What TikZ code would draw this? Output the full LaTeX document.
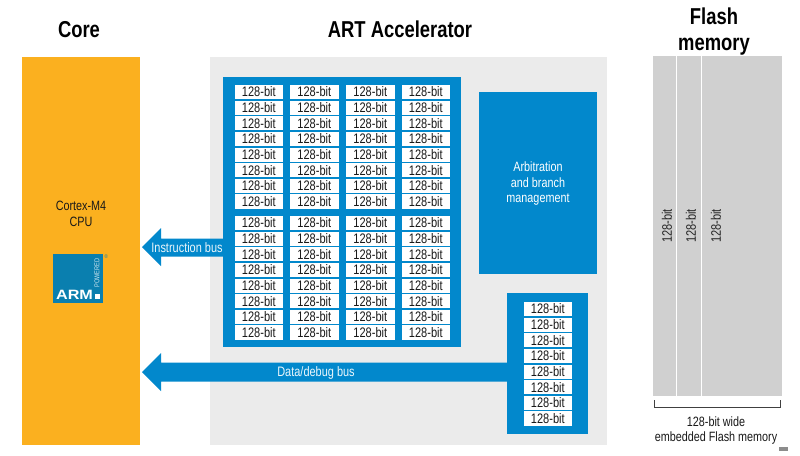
\documentclass[tikz,border=0pt]{standalone}
\usepackage{fontspec}
\setmainfont[FakeStretch=0.8]{Liberation Sans}
\newfontfamily\armfont[FakeStretch=1.2]{Liberation Sans}
\definecolor{coreor}{HTML}{FBB01F}
\definecolor{artblue}{HTML}{0288CC}
\definecolor{panelgr}{HTML}{EBEBEB}
\definecolor{flashgr}{HTML}{D0D0D0}
\definecolor{armblue}{HTML}{0A7FAF}
\tikzset{
  x=1pt,y=-1pt,
  block/.style={anchor=north west,inner sep=0pt,outer sep=0pt,draw=none},
  cell/.style={anchor=north west,fill=white,inner sep=0pt,outer sep=0pt,minimum width=48.6pt,minimum height=14.2pt,text height=9.6pt,text depth=0pt,font=\fontsize{13.8}{13.8}\selectfont,text=black!90},
  title/.style={anchor=base,inner sep=0pt,font=\fontsize{23}{23}\selectfont\bfseries,text=black},
  body/.style={font=\fontsize{13.5}{15.5}\selectfont,align=center,text=black!90},
  arrowfill/.style={fill=artblue,draw=none},
  buslabel/.style={font=\fontsize{13.7}{13.7}\selectfont,text=white!92!artblue},
}
\newcommand{\boxat}[6]{\node[block,fill=#6,minimum width=#4 pt-#2 pt,minimum height=#5 pt-#3 pt] (#1) at (#2,#3) {};}
\begin{document}
\begin{tikzpicture}
\useasboundingbox (0,0) rectangle (800,455);
\fill[white] (0,0) rectangle (800,455);
% titles
\node[title] (tcore) at (79,37) {Core};
\node[title] (tart) at (400,37) {ART Accelerator};
\node[title] (tflash1) at (714,24) {Flash};
\node[title] (tflash2) at (714,50) {memory};
% panels
\boxat{core}{22}{57}{140}{445}{coreor}
\boxat{panel}{210}{57}{607}{445}{panelgr}
\boxat{big}{223}{77}{461}{347}{artblue}
\boxat{arb}{479}{92}{597}{274}{artblue}
\boxat{small}{507}{293}{588}{434}{artblue}
% cells
\foreach \cx [count=\c] in {234.5,290,346,401.5}{
  \foreach \r in {0,...,7}{
    \node[cell] (ca\c\r) at (\cx,85+15.63*\r) {128-bit};
    \node[cell] (cb\c\r) at (\cx,216+15.63*\r) {128-bit};
  }
}
\foreach \r in {0,...,7}{
  \node[cell] (cc\r) at (523.5,302+15.63*\r) {128-bit};
}
% labels
\node[body] (cpu) at (81,214) {Cortex-M4\\CPU};
\node[body,text=white] (arbt) at (538,184) {Arbitration\\and branch\\management};
% ARM logo
\boxat{arm}{53}{254}{103}{303}{armblue}
\node[font=\armfont\fontsize{13.5}{13.5}\selectfont\bfseries,text=white,inner sep=0pt,anchor=base] (armt) at (74.5,299) {ARM};
\fill[white] (94.5,294) rectangle (99.5,299);
\node[font=\fontsize{7}{7}\selectfont,text=white!80!armblue,rotate=90,inner sep=0pt] (pow) at (97,273) {POWERED};
\node[font=\fontsize{5.5}{5.5}\selectfont,text=armblue,inner sep=0pt] (reg) at (106.3,256.5) {®};
% buses
\coordinate (itip) at (142,247);
\coordinate (dtip) at (142,372);
\fill[arrowfill] (itip) -- (161,228) -- (161,238.5) -- (big.west |- 0,238.5) -- (big.west |- 0,256.5) -- (161,256.5) -- (161,266) -- cycle;
\fill[arrowfill] (dtip) -- (161,353) -- (161,362.5) -- (small.west |- 0,362.5) -- (small.west |- 0,381.5) -- (161,381.5) -- (161,391) -- cycle;
\node[buslabel] (ibus) at (187,247.5) {Instruction bus};
\node[buslabel] (dbus) at (316,373) {Data/debug bus};
% flash
\boxat{flash}{653}{56}{782}{396}{flashgr}
\draw[white,line width=1pt] (676,56) -- (676,396);
\draw[white,line width=1pt] (701,56) -- (701,396);
\foreach \fx/\nm in {667/fa,691/fb,716/fc}{
  \node[rotate=90,font=\fontsize{13.8}{13.8}\selectfont,text=black!85,inner sep=0pt] (\nm) at (\fx,226) {128-bit};
}
\draw[black!75,line width=0.8pt] (654.5,400) -- (654.5,407) -- (780,407) -- (780,400);
\node[body] (wide) at (716,430.5) {128-bit wide\\embedded Flash memory};
\fill[black!45] (779,447) rectangle (788,451);
\end{tikzpicture}
\end{document}
